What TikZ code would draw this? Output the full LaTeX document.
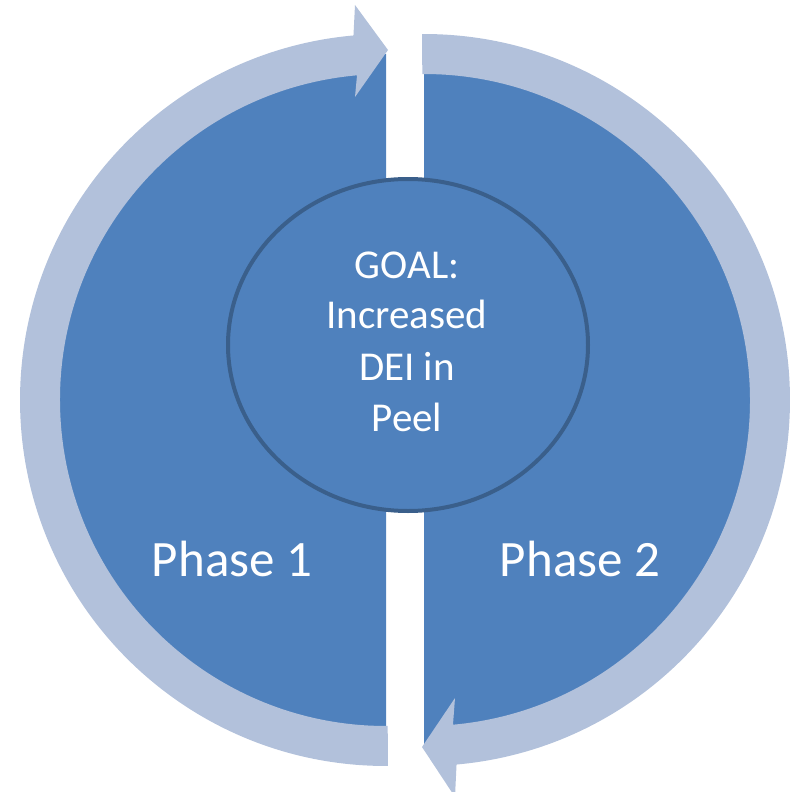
\documentclass[tikz,border=0pt]{standalone}
\usepackage{fontspec}
\setmainfont{Carlito}
\usetikzlibrary{calc}
\definecolor{discblue}{HTML}{4F81BD}
\definecolor{ringblue}{HTML}{B2C1DB}
\definecolor{edgeblue}{HTML}{3A5F8B}
\begin{document}
\begin{tikzpicture}[x=1pt,y=1pt,
  disc/.style={fill=discblue},
  ring/.style={fill=ringblue},
  goaltext/.style={text=white,font=\fontsize{41}{49}\selectfont,inner sep=0pt,anchor=base},
  phasetext/.style={text=white,font=\fontsize{51}{61}\selectfont,inner sep=0pt,anchor=base}]
\useasboundingbox (0,0) rectangle (793,-792);
\coordinate (cl) at (386,-400);
\coordinate (cr) at (424,-400);
% half discs
\path[disc] (386,-54) arc[start angle=90,end angle=270,radius=346] -- cycle;
\path[disc] (424,-54) arc[start angle=90,end angle=-90,radius=346] -- cycle;
% left ring arrow
\path[ring] ($(cl)+(270.3:366)$) arc[start angle=270.3,end angle=95.1,radius=366]
  -- (355,-5) -- (388,-50) -- (355,-97)
  -- ($(cl)+(95.1:326)$) arc[start angle=95.1,end angle=270.3,radius=326] -- cycle;
% right ring arrow
\path[ring] ($(cr)+(90.3:366)$) arc[start angle=90.3,end angle=-84.9,radius=366]
  -- (455,-797) -- (422,-747) -- (455,-698)
  -- ($(cr)+(-84.9:326)$) arc[start angle=-84.9,end angle=90.3,radius=326] -- cycle;
% goal ellipse
\draw[edgeblue,fill=discblue,line width=4pt] (408,-345) ellipse[x radius=180,y radius=166];
\node[goaltext] (g1) at (407,-278) {GOAL:};
\node[goaltext] (g2) at (407,-328) {Increased};
\node[goaltext] (g3) at (407,-380) {DEI in};
\node[goaltext] (g4) at (407,-431) {Peel};
\node[phasetext] (p1) at (232,-576) {Phase 1};
\node[phasetext] (p2) at (580,-576) {Phase 2};
\end{tikzpicture}
\end{document}
